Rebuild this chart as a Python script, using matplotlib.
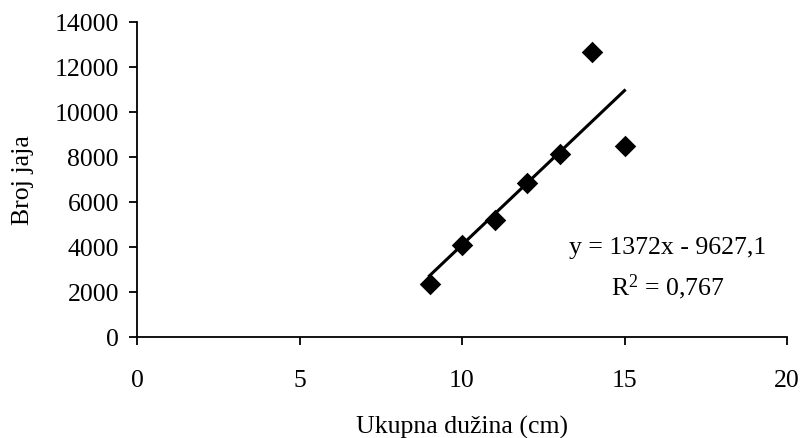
import matplotlib
matplotlib.use("Agg")
import matplotlib.pyplot as plt
import numpy as np

plt.rcParams['font.family'] = ['Liberation Serif', 'DejaVu Serif']
plt.rcParams['mathtext.fontset'] = 'custom'
plt.rcParams['mathtext.rm'] = 'Liberation Serif'
plt.rcParams['mathtext.it'] = 'Liberation Serif:italic'
plt.rcParams['mathtext.bf'] = 'Liberation Serif:bold'

duzina = [9, 10, 11, 12, 13, 14, 15]
broj_jaja = [2350, 4100, 5200, 6850, 8120, 12650, 8490]
slope = 1372
intercept = -9627.1
eq_text = "y = 1372x - 9627,1"
r2_text = r"R$^\mathrm{2}$ = 0,767"
x_ticks = [0, 5, 10, 15, 20]
y_ticks = [0, 2000, 4000, 6000, 8000, 10000, 12000, 14000]

FS = 18.5

fig = plt.figure(figsize=(8.01, 4.39), dpi=100)
ax = fig.add_axes([137/801, 1 - 338/439, 650/801, 315/439])

ax.scatter(duzina, broj_jaja, marker='D', s=120, color='black', zorder=3, linewidths=0)
xs = np.array([min(duzina), max(duzina)])
ax.plot(xs, slope * xs + intercept, color='black', lw=2.2, zorder=2)

ax.set_xlim(0, 20)
ax.set_ylim(0, 14000)
ax.set_xticks(x_ticks)
ax.set_yticks(y_ticks)
ax.spines['top'].set_visible(False)
ax.spines['right'].set_visible(False)
for s in ['left', 'bottom']:
    ax.spines[s].set_linewidth(1.3)
ax.tick_params(axis='both', direction='out', length=6, width=1.3, labelsize=FS, colors='black')
ax.tick_params(axis='x', pad=17)
ax.tick_params(axis='y', pad=7)

ax.set_xlabel("Ukupna dužina (cm)", fontsize=FS)
ax.set_ylabel("Broj jaja", fontsize=FS)
ax.xaxis.set_label_coords(0.5, (338 - 427) / 315)
ax.xaxis.label.set_va('center')
ax.yaxis.set_label_coords((23 - 137) / 650, 0.5)
ax.yaxis.label.set_va('center')

ax.text(16.34, 4000, eq_text, fontsize=FS, ha='center', va='center')
ax.text(16.34, 2267, r2_text, fontsize=FS, ha='center', va='center')

fig.savefig("out.png", dpi=100)
